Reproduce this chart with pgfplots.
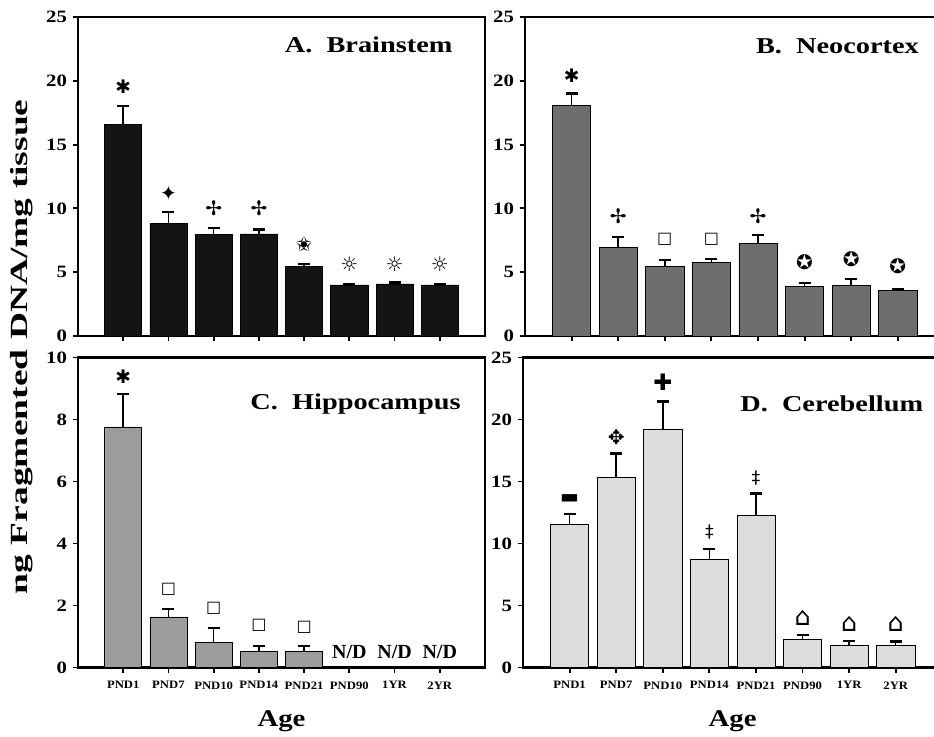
\documentclass[border=0pt]{standalone}
\usepackage{fontspec}
\setmainfont{Liberation Serif}
\newfontfamily\sym{DejaVu Sans}
\usepackage{pgfplots}
\pgfplotsset{compat=1.18}
\usetikzlibrary{calc}

\definecolor{barA}{HTML}{141414}
\definecolor{barB}{HTML}{6E6E6E}
\definecolor{barC}{HTML}{9C9C9C}
\definecolor{barD}{HTML}{DCDCDC}

\tikzset{paneltitle/.style={anchor=north east, inner sep=0pt,
    font=\bfseries\fontsize{17}{19}\selectfont, xscale=1.25}}
\newcommand\fs[1]{\fontsize{#1}{#1}\selectfont}

\pgfplotsset{
  panel/.style={
    scale only axis,
    xmin=-1, xmax=8, ymin=0,
    axis line style={line width=1.9pt},
    xtick={0,...,7},
    tick align=outside, tick pos=left,
    major tick length=4pt,
    tick style={line width=1.4pt, black},
    /pgf/number format/assume math mode=true,
    yticklabel style={font=\bfseries\fontsize{13}{14}\selectfont, xscale=1.2},
    xticklabel style={font=\bfseries\fontsize{8.5}{10}\selectfont, xscale=1.12, yshift=-3pt},
    xlabel style={font=\bfseries\fontsize{18}{20}\selectfont, xscale=1.2, yshift=-9pt},
  },
  bars/.style={
    ybar, bar width=0.82, fill=#1, draw=black, line width=0.5pt,
    error bars/.cd, y dir=plus, y explicit,
    error bar style={line width=1.1pt, black},
    error mark options={line width=1.7pt, mark size=4.5pt, black, rotate=90},
  },
  marks/.style={
    only marks, mark=none, nodes near coords, point meta=explicit symbolic,
    every node near coord/.style={anchor=center, inner sep=0pt,
      font=\sym\fontsize{#1}{#1}\selectfont},
  },
}

\begin{document}
\begin{tikzpicture}
\path[use as bounding box] (0,0) rectangle (700.5pt,552pt);

% A. Brainstem
\begin{axis}[panel, name=A, at={(58.5pt,300pt)}, anchor=south west,
  width=305.25pt, height=239.25pt, ymax=25, ytick={0,5,...,25}, xticklabels={}]
\addplot[bars=barA] coordinates {
  (0,16.55) +- (0,1.48) (1,8.83) +- (0,0.88) (2,7.95) +- (0,0.54) (3,8.00) +- (0,0.34)
  (4,5.43) +- (0,0.21) (5,4.00) +- (0,0.08) (6,4.08) +- (0,0.12) (7,4.00) +- (0,0.05)
};
\addplot[marks=15] coordinates {
  (0,19.5)[{\fs{14}✱}] (1,11.2)[✦] (2,10.0)[✢] (3,10.0)[✢]
  (4,7.2)[✬] (5,5.64)[☼] (6,5.64)[☼] (7,5.64)[☼]
};
\node[paneltitle] at (rel axis cs:0.921,0.94) {A.\ \ Brainstem};
\end{axis}

% B. Neocortex
\begin{axis}[panel, name=B, at={(393.75pt,300pt)}, anchor=south west,
  width=314.5pt, height=239.25pt, ymax=25, ytick={0,5,...,25}, xticklabels={}]
\addplot[bars=barB] coordinates {
  (0,18.08) +- (0,0.92) (1,6.95) +- (0,0.81) (2,5.45) +- (0,0.50) (3,5.76) +- (0,0.29)
  (4,7.26) +- (0,0.63) (5,3.87) +- (0,0.26) (6,3.95) +- (0,0.50) (7,3.55) +- (0,0.11)
};
\addplot[marks=15] coordinates {
  (0,20.4)[{\fs{14}✱}] (1,9.4)[✢] (2,7.6)[{\fs{12}□}] (3,7.6)[{\fs{12}□}]
  (4,9.4)[✢] (5,5.8)[✪] (6,6.05)[✪] (7,5.5)[✪]
};
\node[paneltitle] at (rel axis cs:0.94,0.934) {B.\ \ Neocortex};
\end{axis}

% C. Hippocampus
\begin{axis}[panel, name=C, at={(58.5pt,51.4pt)}, anchor=south west,
  width=305.25pt, height=232.5pt, ymax=10, ytick={0,2,...,10},
  xticklabels={PND1,PND7,PND10,PND14,PND21,PND90,1YR,2YR}, xlabel={Age}]
\addplot[bars=barC] coordinates {
  (0,7.76) +- (0,1.06) (1,1.63) +- (0,0.26) (2,0.80) +- (0,0.48)
  (3,0.53) +- (0,0.16) (4,0.53) +- (0,0.17)
};
\addplot[marks=12] coordinates {
  (0,9.38)[{\fs{14}✱}] (1,2.52)[□] (2,1.92)[□] (3,1.37)[□] (4,1.29)[□]
};
\addplot[only marks, mark=none, nodes near coords, point meta=explicit symbolic,
  every node near coord/.style={anchor=center, inner sep=0pt,
    font=\bfseries\fontsize{15}{17}\selectfont}] coordinates {
  (5,0.5)[N/D] (6,0.5)[N/D] (7,0.5)[N/D]
};
\node[paneltitle] at (rel axis cs:0.941,0.884) {C.\ \ Hippocampus};
\end{axis}

% D. Cerebellum
\begin{axis}[panel, name=D, at={(392.25pt,51.4pt)}, anchor=south west,
  width=314.5pt, height=232.5pt, ymax=25, ytick={0,5,...,25},
  xticklabels={PND1,PND7,PND10,PND14,PND21,PND90,1YR,2YR}, xlabel={Age}]
\addplot[bars=barD] coordinates {
  (0,11.55) +- (0,0.80) (1,15.35) +- (0,1.90) (2,19.22) +- (0,2.22) (3,8.74) +- (0,0.81)
  (4,12.30) +- (0,1.74) (5,2.27) +- (0,0.35) (6,1.79) +- (0,0.35) (7,1.79) +- (0,0.30)
};
\addplot[marks=15] coordinates {
  (0,13.6)[▬] (1,18.6)[✥] (2,23.0)[{\fs{17}✚}] (3,10.96)[{\fs{13}‡}]
  (4,15.3)[{\fs{13}‡}] (5,4.0)[{\fs{19}⌂}] (6,3.48)[{\fs{19}⌂}] (7,3.48)[{\fs{19}⌂}]
};
\node[paneltitle] at (rel axis cs:0.955,0.877) {D.\ \ Cerebellum};
\end{axis}

\node[rotate=90, inner sep=0pt, font=\bfseries\fontsize{18.5}{22}\selectfont]
  at ($($(A.south west)!0.5!(C.north west)$)+(-42pt,0)$)
  {\scalebox{1.52}[1]{ng Fragmented DNA/mg tissue}};
\end{tikzpicture}
\end{document}
